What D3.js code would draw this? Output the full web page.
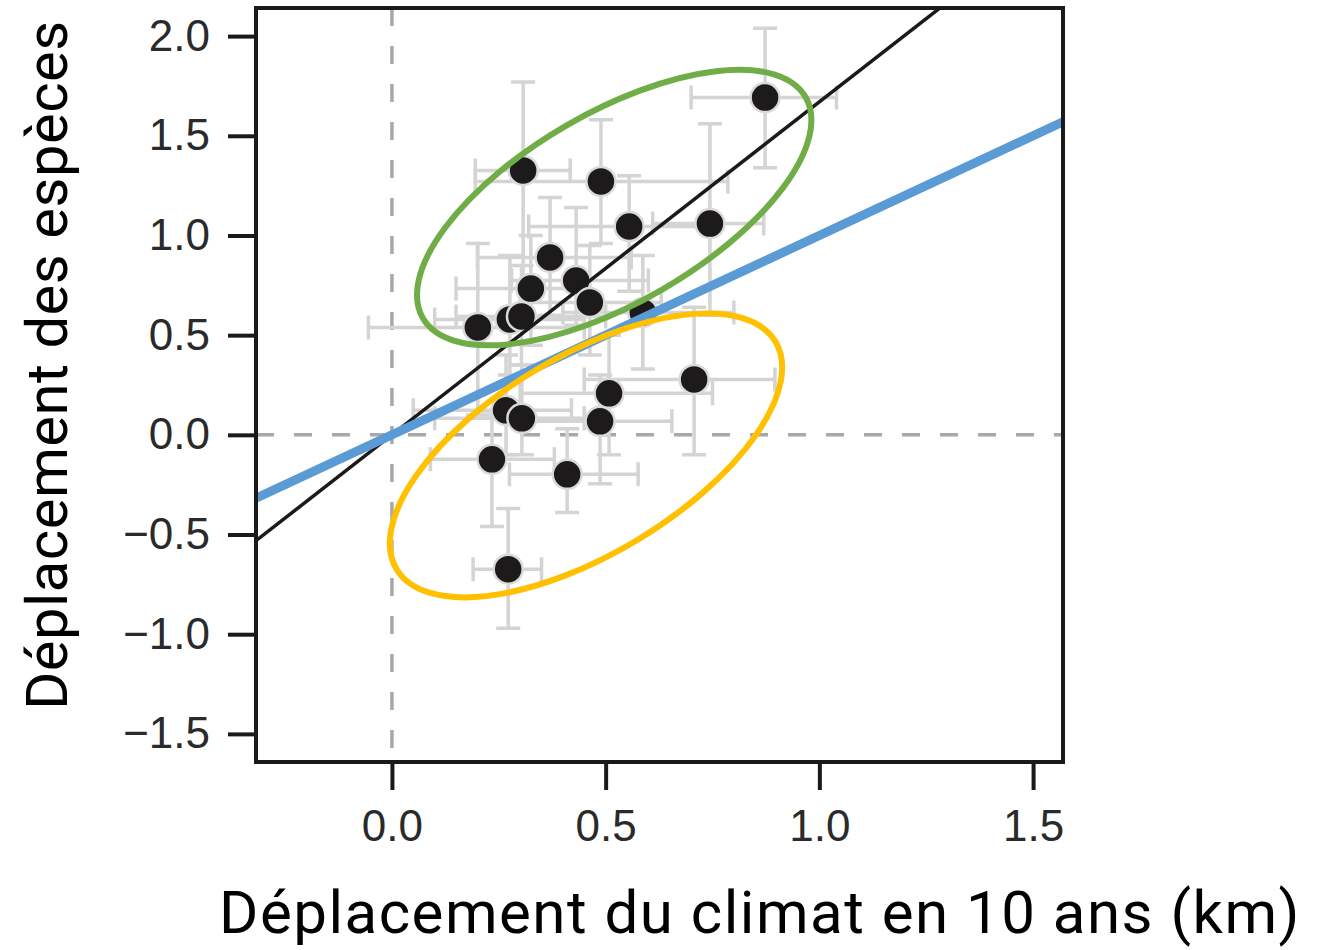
<!DOCTYPE html>
<html>
<head>
<meta charset="utf-8">
<script src="https://cdn.jsdelivr.net/npm/d3@7"></script>
<style>
    body { margin: 0; background: #fff; }
    .tick text { font-family: "Liberation Sans", Arial, sans-serif; }
</style>
</head>
<body>
<div id="chart"></div>
<script>
// Species shift vs climate shift (one point per species)
const climateShift = [0.873, 0.307, 0.489, 0.555, 0.744, 0.370, 0.431, 0.325, 0.463, 0.201, 0.276,
    0.303, 0.587, 0.707, 0.508, 0.487, 0.267, 0.304, 0.234, 0.410, 0.272];
const speciesShift = [1.692, 1.326, 1.271, 1.045, 1.060, 0.890, 0.774, 0.734, 0.664, 0.539, 0.579,
    0.594, 0.614, 0.278, 0.208, 0.068, 0.123, 0.083, -0.123, -0.198, -0.674];
const climateLow = [0.70, 0.195, 0.195, 0.32, 0.61, 0.20, 0.28, 0.15, 0.30, -0.055, 0.10,
    0.15, 0.40, 0.45, 0.30, 0.30, 0.05, 0.10, 0.09, 0.275, 0.19];
const climateHigh = [1.04, 0.417, 0.786, 0.75, 0.87, 0.56, 0.60, 0.45, 0.63, 0.45, 0.45,
    0.50, 0.80, 0.896, 0.75, 0.655, 0.42, 0.45, 0.38, 0.576, 0.35];
const speciesLow = [1.34, 0.62, 0.96, 0.72, 0.60, 0.60, 0.55, 0.45, 0.40, 0.10, 0.30,
    0.35, 0.33, -0.10, -0.10, -0.245, -0.10, -0.10, -0.46, -0.39, -0.97];
const speciesHigh = [2.04, 1.77, 1.58, 1.30, 1.56, 1.19, 1.14, 1.00, 0.95, 0.96, 0.90,
    0.85, 0.90, 0.64, 0.50, 0.30, 0.40, 0.35, 0.12, 0.03, -0.37];

// Fitted line (slope through origin) and 1:1 line
const fitSlope = 1.67;
const oneToOneSlope = 1.0;

// Groups highlighted by ellipses (centres in data units)
const groupNames = ['suivent', 'ne suivent pas'];
const groupCentreX = [0.520, 0.454];
const groupCentreY = [1.140, -0.103];

const xTicks = [0.0, 0.5, 1.0, 1.5];
const yTicks = [2.0, 1.5, 1.0, 0.5, 0.0, -0.5, -1.0, -1.5];
const xDomain = [-0.318, 1.570];
const yDomain = [-1.641, 2.141];

const xTitle = 'Déplacement du climat en 10 ans (km)';
const yTitle = 'Déplacement des espèces';

const points = climateShift.map((x, i) => ({
    x: x, y: speciesShift[i],
    x0: climateLow[i], x1: climateHigh[i],
    y0: speciesLow[i], y1: speciesHigh[i]
}));

const margin = { top: 8, right: 264, bottom: 188, left: 256 };
const width = 1327 - margin.left - margin.right;
const height = 950 - margin.top - margin.bottom;

const svg = d3.select('#chart').append('svg')
    .attr('width', 1327)
    .attr('height', 950);

const chart = svg.append('g')
    .attr('transform', `translate(${margin.left},${margin.top})`);

const xScale = d3.scaleLinear().domain(xDomain).range([0, width]);
const yScale = d3.scaleLinear().domain(yDomain).range([height, 0]);

chart.append('clipPath').attr('id', 'clip')
    .append('rect').attr('width', width).attr('height', height);

const plot = chart.append('g').attr('clip-path', 'url(#clip)');

// Dashed zero lines
plot.append('line')
    .attr('x1', xScale(0)).attr('x2', xScale(0))
    .attr('y1', 0).attr('y2', height)
    .attr('stroke', '#a8a8a8').attr('stroke-width', 3.5)
    .attr('stroke-dasharray', '18,20');
plot.append('line')
    .attr('x1', 0).attr('x2', width)
    .attr('y1', yScale(0)).attr('y2', yScale(0))
    .attr('stroke', '#a8a8a8').attr('stroke-width', 3.5)
    .attr('stroke-dasharray', '18,20');

// Error bars
const capHalf = 12;
const bars = plot.append('g')
    .attr('stroke', '#d4d4d4')
    .attr('stroke-width', 3.5)
    .attr('fill', 'none');

bars.selectAll('.err-h')
    .data(points)
    .join('path')
    .attr('class', 'err-h')
    .attr('d', d => {
        const y = yScale(d.y), a = xScale(d.x0), b = xScale(d.x1);
        return `M${a},${y}H${b}M${a},${y - capHalf}V${y + capHalf}M${b},${y - capHalf}V${y + capHalf}`;
    });

bars.selectAll('.err-v')
    .data(points)
    .join('path')
    .attr('class', 'err-v')
    .attr('d', d => {
        const x = xScale(d.x), a = yScale(d.y0), b = yScale(d.y1);
        return `M${x},${a}V${b}M${x - capHalf},${a}H${x + capHalf}M${x - capHalf},${b}H${x + capHalf}`;
    });

// Points
plot.selectAll('.point')
    .data(points)
    .join('circle')
    .attr('class', 'point')
    .attr('cx', d => xScale(d.x))
    .attr('cy', d => yScale(d.y))
    .attr('r', 14.5)
    .attr('fill', '#1c1a1b')
    .attr('stroke', '#dadada')
    .attr('stroke-width', 2.5);

// Fitted line
plot.append('line')
    .attr('x1', xScale(xDomain[0])).attr('y1', yScale(fitSlope * xDomain[0]))
    .attr('x2', xScale(xDomain[1])).attr('y2', yScale(fitSlope * xDomain[1]))
    .attr('stroke', '#1a1a1a').attr('stroke-width', 3.5);

// 1:1 line
plot.append('line')
    .attr('x1', xScale(xDomain[0])).attr('y1', yScale(oneToOneSlope * xDomain[0]))
    .attr('x2', xScale(xDomain[1])).attr('y2', yScale(oneToOneSlope * xDomain[1]))
    .attr('stroke', '#5b9bd5').attr('stroke-width', 9);

// Frame
chart.append('rect')
    .attr('width', width).attr('height', height)
    .attr('fill', 'none')
    .attr('stroke', '#1a1a1a').attr('stroke-width', 4);

// Axes
const xAxis = d3.axisBottom(xScale)
    .tickValues(xTicks)
    .tickSize(28)
    .tickPadding(20)
    .tickFormat(d3.format('.1f'));
const yAxis = d3.axisLeft(yScale)
    .tickValues(yTicks)
    .tickSize(28)
    .tickPadding(18)
    .tickFormat(d3.format('.1f'));

chart.append('g')
    .attr('transform', `translate(0,${height})`)
    .call(xAxis)
    .call(g => g.select('.domain').remove())
    .call(g => g.selectAll('.tick line').attr('stroke', '#1a1a1a').attr('stroke-width', 4))
    .call(g => g.selectAll('.tick text').attr('fill', '#2a2a2a').style('font-size', '44px'));

chart.append('g')
    .call(yAxis)
    .call(g => g.select('.domain').remove())
    .call(g => g.selectAll('.tick line').attr('stroke', '#1a1a1a').attr('stroke-width', 4))
    .call(g => g.selectAll('.tick text').attr('fill', '#2a2a2a').style('font-size', '44px'));

// Group ellipses
const ellipseColors = ['#70ad47', '#ffc000'];
const ellipseRx = [221, 221];
const ellipseRy = [95, 99];
const ellipseAngle = [-30, -31];

chart.selectAll('.group-ellipse')
    .data(groupNames)
    .join('ellipse')
    .attr('class', 'group-ellipse')
    .attr('transform', (d, i) => `translate(${xScale(groupCentreX[i])},${yScale(groupCentreY[i])}) rotate(${ellipseAngle[i]})`)
    .attr('rx', (d, i) => ellipseRx[i])
    .attr('ry', (d, i) => ellipseRy[i])
    .attr('fill', 'none')
    .attr('stroke', (d, i) => ellipseColors[i])
    .attr('stroke-width', 6);

// Axis titles
svg.append('text')
    .attr('x', 760)
    .attr('y', 933)
    .attr('text-anchor', 'middle')
    .attr('fill', '#000')
    .style('font-family', 'Roboto, sans-serif')
    .style('font-size', '60px')
    .style('letter-spacing', '1.5px')
    .text(xTitle);

svg.append('text')
    .attr('transform', 'translate(67,365) rotate(-90)')
    .attr('text-anchor', 'middle')
    .attr('fill', '#000')
    .style('font-family', 'Roboto, sans-serif')
    .style('font-size', '58px')
    .style('letter-spacing', '0.5px')
    .text(yTitle);
</script>
</body>
</html>
